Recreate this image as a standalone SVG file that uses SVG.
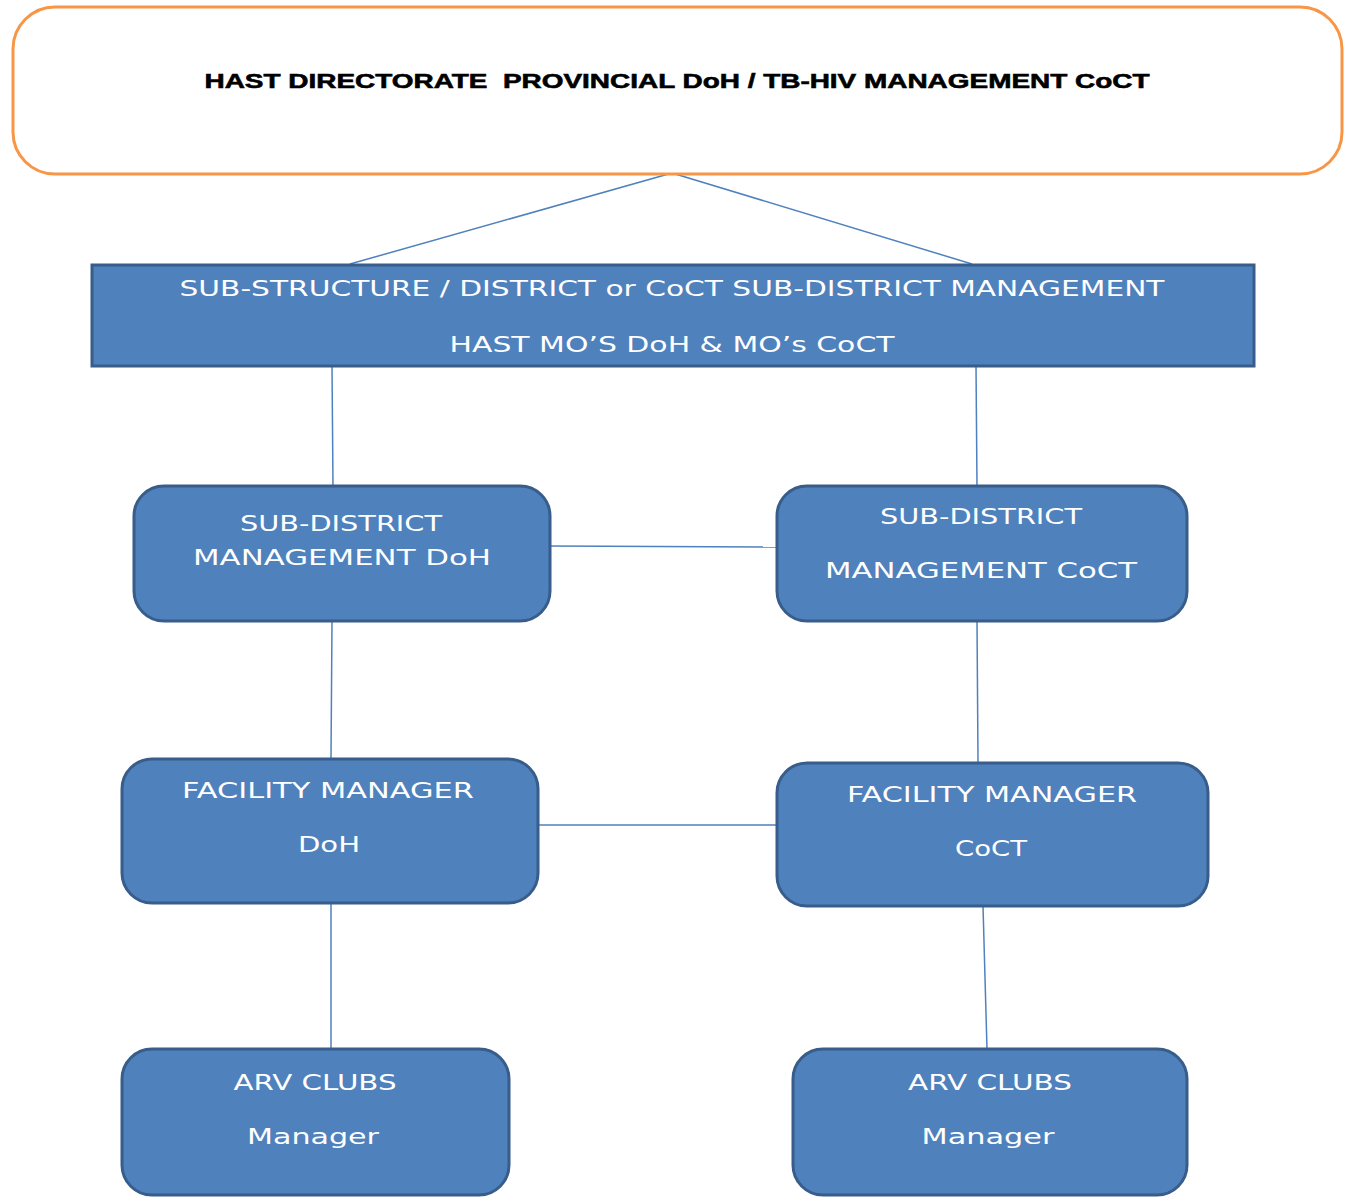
<svg xmlns="http://www.w3.org/2000/svg" width="1349" height="1197" viewBox="0 0 1349 1197">
<style>
.box{fill:#4F81BD;stroke:#385D8A;stroke-width:3}
.top{fill:#FFFFFF;stroke:#F79646;stroke-width:3}
.t{font-family:"DejaVu Sans","Liberation Sans",sans-serif;font-size:21px;fill:#FFFFFF;text-anchor:middle}
.tt{font-family:"Liberation Sans",Arial,sans-serif;font-size:21px;font-weight:bold;fill:#000000;text-anchor:middle;stroke:#000000;stroke-width:0.6}
.c line{stroke:#4F81BD;stroke-width:1.5;fill:none}
</style>
<rect width="1349" height="1197" fill="#FFFFFF"/>
<g class="c" id="connectors">
<line x1="672" y1="173" x2="350" y2="264"/>
<line x1="672" y1="173" x2="972" y2="264"/>
<line x1="332" y1="366" x2="333" y2="486"/>
<line x1="976" y1="366" x2="977" y2="486"/>
<line x1="550" y1="546" x2="777" y2="547"/>
<line x1="332" y1="621" x2="331" y2="758"/>
<line x1="977" y1="621" x2="978" y2="762"/>
<line x1="538" y1="825" x2="777" y2="825"/>
<line x1="331" y1="903" x2="331" y2="1049"/>
<line x1="983" y1="906" x2="987" y2="1049"/>
</g>
<g id="top">
<rect class="top" x="13" y="7" width="1329" height="167" rx="42"/>
<text class="tt" x="677" y="88" textLength="945" lengthAdjust="spacingAndGlyphs" xml:space="preserve">HAST DIRECTORATE  PROVINCIAL DoH / TB-HIV MANAGEMENT CoCT</text>
</g>
<g id="substructure">
<rect class="box" x="92" y="265" width="1162" height="101"/>
<text class="t" x="672" y="296" textLength="985" lengthAdjust="spacingAndGlyphs">SUB-STRUCTURE / DISTRICT or CoCT SUB-DISTRICT MANAGEMENT</text>
<text class="t" x="672" y="352" textLength="445" lengthAdjust="spacingAndGlyphs">HAST MO’S DoH &amp; MO’s CoCT</text>
</g>
<g id="subdistrict-doh">
<rect class="box" x="134" y="486" width="416" height="135" rx="30"/>
<text class="t" x="341" y="531" textLength="202" lengthAdjust="spacingAndGlyphs">SUB-DISTRICT</text>
<text class="t" x="342" y="565" textLength="298" lengthAdjust="spacingAndGlyphs">MANAGEMENT DoH</text>
</g>
<g id="subdistrict-coct">
<rect class="box" x="777" y="486" width="410" height="135" rx="30"/>
<text class="t" x="981" y="524" textLength="202" lengthAdjust="spacingAndGlyphs">SUB-DISTRICT</text>
<text class="t" x="981" y="578" textLength="312" lengthAdjust="spacingAndGlyphs">MANAGEMENT CoCT</text>
</g>
<g id="facility-doh">
<rect class="box" x="122" y="759" width="416" height="144" rx="30"/>
<text class="t" x="328" y="798" textLength="292" lengthAdjust="spacingAndGlyphs">FACILITY MANAGER</text>
<text class="t" x="329" y="852" textLength="62" lengthAdjust="spacingAndGlyphs">DoH</text>
</g>
<g id="facility-coct">
<rect class="box" x="777" y="763" width="431" height="143" rx="30"/>
<text class="t" x="992" y="802" textLength="290" lengthAdjust="spacingAndGlyphs">FACILITY MANAGER</text>
<text class="t" x="991" y="856" textLength="72" lengthAdjust="spacingAndGlyphs">CoCT</text>
</g>
<g id="arv-doh">
<rect class="box" x="122" y="1049" width="387" height="146" rx="30"/>
<text class="t" x="315" y="1090" textLength="163" lengthAdjust="spacingAndGlyphs">ARV CLUBS</text>
<text class="t" x="313" y="1144" textLength="132" lengthAdjust="spacingAndGlyphs">Manager</text>
</g>
<g id="arv-coct">
<rect class="box" x="793" y="1049" width="394" height="146" rx="30"/>
<text class="t" x="990" y="1090" textLength="164" lengthAdjust="spacingAndGlyphs">ARV CLUBS</text>
<text class="t" x="988" y="1144" textLength="133" lengthAdjust="spacingAndGlyphs">Manager</text>
</g>
</svg>
